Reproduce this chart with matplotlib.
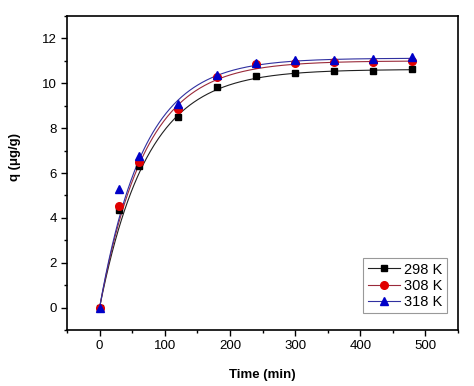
import numpy as np
import matplotlib
matplotlib.use("Agg")
import matplotlib.pyplot as plt
from matplotlib.lines import Line2D
from matplotlib.ticker import MultipleLocator

plt.rcParams['font.family'] = ['Liberation Sans', 'DejaVu Sans']

# contact time (min)
time_min = [0, 30, 60, 120, 180, 240, 300, 360, 420, 480]

# measured uptake q (ug/g) per temperature
q_298 = [0, 4.35, 6.30, 8.50, 9.85, 10.33, 10.48, 10.55, 10.57, 10.62]
q_308 = [0, 4.55, 6.50, 8.85, 10.30, 10.85, 10.92, 10.95, 10.97, 11.00]
q_318 = [0, 5.30, 6.75, 9.08, 10.38, 10.92, 11.05, 11.05, 11.10, 11.18]

labels = ['298 K', '308 K', '318 K']

# pseudo-first-order fit parameters
qe_fit = [10.62, 11.0, 11.12]
k_fit = [0.0137, 0.0143, 0.0148]

colors = ['black', '#e00000', '#0000c8']
line_colors = ['#202020', '#9a2a3a', '#3030a0']
markers = ['s', 'o', '^']
msizes = [4.5, 5.5, 6]

fig = plt.figure(figsize=(4.74, 3.86), dpi=100)
ax = fig.add_axes([67 / 474, 1 - 330 / 386, (458 - 67) / 474, (330 - 16) / 386])

t_fine = np.linspace(0, 480, 400)
handles = []
for q, qe, k, c, lc, m, ms, lab in zip([q_298, q_308, q_318], qe_fit, k_fit,
                                        colors, line_colors, markers, msizes, labels):
    ax.plot(t_fine, qe * (1 - np.exp(-k * t_fine)), color=lc, lw=0.8, zorder=2)
    ax.plot(time_min, q, ls='none', marker=m, ms=ms, color=c, zorder=3)
    handles.append(Line2D([], [], color=lc, lw=0.8, marker=m, ms=ms,
                          markerfacecolor=c, markeredgecolor=c, label=lab))

ax.set_xlim(-50, 550)
ax.set_ylim(-1, 13)
ax.xaxis.set_major_locator(MultipleLocator(100))
ax.xaxis.set_minor_locator(MultipleLocator(50))
ax.yaxis.set_major_locator(MultipleLocator(2))
ax.yaxis.set_minor_locator(MultipleLocator(1))
ax.set_xticks([0, 100, 200, 300, 400, 500])
ax.set_yticks([0, 2, 4, 6, 8, 10, 12])
ax.tick_params(which='both', direction='out', labelsize=9.5, width=1.0)
ax.tick_params(which='major', length=4)
ax.tick_params(which='minor', length=2.5)
for s in ax.spines.values():
    s.set_linewidth(1.2)

ax.set_xlabel('Time (min)', fontsize=9.5, fontweight='bold')
ax.set_ylabel('q (\u03bcg/g)', fontsize=9.5, fontweight='bold')
ax.xaxis.set_label_coords(0.5, -0.125)
ax.yaxis.set_label_coords(-0.118, 0.55)

leg = ax.legend(handles=handles, loc='lower right', fontsize=10.5,
                frameon=True, fancybox=False, edgecolor='#808080',
                handlelength=2.2, handletextpad=0.3, borderpad=0.3,
                labelspacing=0.15, bbox_to_anchor=(0.99, 0.03))
leg.get_frame().set_linewidth(0.8)

fig.savefig('out.png', dpi=100)
